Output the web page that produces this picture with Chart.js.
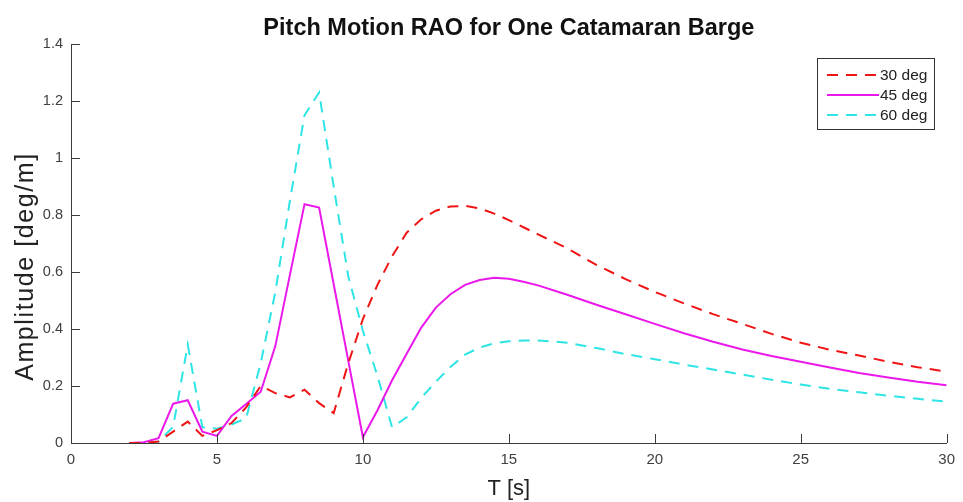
<!DOCTYPE html>
<html>
<head>
<meta charset="utf-8">
<script src="https://cdn.jsdelivr.net/npm/chart.js@4.4.1/dist/chart.umd.min.js"></script>
<style>
  html, body { margin: 0; padding: 0; background: #fff; }
  #wrap { width: 963px; height: 502px; }
</style>
</head>
<body>
<div id="wrap"><canvas id="grafico" width="963" height="502"></canvas></div>
<script>
// periodo de ola T [s]
const periods = [2, 2.5, 3, 3.5, 4, 4.5, 5, 5.5, 6, 6.5, 7, 7.5, 8, 8.5, 9, 9.5, 10,
  10.5, 11, 11.5, 12, 12.5, 13, 13.5, 14, 14.5, 15, 15.5, 16,
  17, 18, 19, 20, 21, 22, 23, 24, 25, 26, 27, 28, 29, 30];

const deg30 = [0, 0, 0.005, 0.04, 0.075, 0.025, 0.045, 0.07, 0.125, 0.2, 0.175, 0.16, 0.187, 0.14, 0.105, 0.28, 0.435,
  0.555, 0.655, 0.738, 0.785, 0.815, 0.83, 0.832, 0.823, 0.805, 0.782, 0.757, 0.732,
  0.683, 0.625, 0.575, 0.53, 0.49, 0.452, 0.418, 0.383, 0.352, 0.327, 0.307, 0.285, 0.266, 0.25];

const deg45 = [0, 0.003, 0.017, 0.138, 0.15, 0.04, 0.025, 0.095, 0.137, 0.18, 0.34, 0.59, 0.838, 0.826, 0.557, 0.288, 0.02,
  0.115, 0.22, 0.313, 0.405, 0.475, 0.522, 0.555, 0.572, 0.58, 0.576, 0.566, 0.553,
  0.52, 0.485, 0.452, 0.418, 0.385, 0.355, 0.328, 0.305, 0.285, 0.265, 0.246, 0.23, 0.215, 0.203];

const deg60 = [0, 0, 0.005, 0.057, 0.345, 0.055, 0.05, 0.065, 0.087, 0.28, 0.53, 0.85, 1.15, 1.23, 0.9, 0.585, 0.394,
  0.235, 0.055, 0.09, 0.158, 0.215, 0.267, 0.31, 0.335, 0.35, 0.357, 0.36, 0.36,
  0.352, 0.333, 0.312, 0.294, 0.275, 0.258, 0.24, 0.222, 0.205, 0.19, 0.178, 0.166, 0.155, 0.145];

const seriesLabels = ['30 deg', '45 deg', '60 deg'];
const xTicks = [0, 5, 10, 15, 20, 25, 30];
const yTicks = [0, 0.2, 0.4, 0.6, 0.8, 1, 1.2, 1.4];

const FONT = "'Liberation Sans', Arial, Helvetica, sans-serif";
const AXIS_COLOR = '#3c3c3c';
const TEXT_COLOR = '#404040';

const toPoints = vals => periods.map((t, i) => ({ x: t, y: vals[i] }));

// centra el título sobre el área de trazado (como MATLAB)
const centerTitle = {
  id: 'centerTitle',
  afterLayout(chart) {
    const tb = chart.titleBlock;
    if (tb) {
      tb.left = chart.chartArea.left;
      tb.right = chart.chartArea.right;
      tb.width = tb.right - tb.left;
    }
  }
};

// marcas de eje hacia adentro + título del eje Y
const insideTicks = {
  id: 'insideTicks',
  afterDraw(chart) {
    const { ctx, chartArea, scales } = chart;
    ctx.save();
    ctx.strokeStyle = AXIS_COLOR;
    ctx.lineWidth = 1;
    ctx.beginPath();
    xTicks.forEach(v => {
      const px = Math.round(scales.x.getPixelForValue(v)) + 0.5;
      ctx.moveTo(px, chartArea.bottom);
      ctx.lineTo(px, chartArea.bottom - 9);
    });
    yTicks.forEach(v => {
      const py = Math.round(scales.y.getPixelForValue(v)) + 0.5;
      ctx.moveTo(chartArea.left, py);
      ctx.lineTo(chartArea.left + 9, py);
    });
    ctx.stroke();

    // etiqueta vertical
    const cy = (chartArea.top + chartArea.bottom) / 2 + 23;
    ctx.translate(33, cy);
    ctx.rotate(-Math.PI / 2);
    ctx.font = '25px ' + FONT;
    if ('letterSpacing' in ctx) ctx.letterSpacing = '1.6px';
    ctx.fillStyle = '#222';
    ctx.textAlign = 'center';
    ctx.textBaseline = 'alphabetic';
    ctx.fillText('Amplitude [deg/m]', 0, 0);
    ctx.restore();
  }
};

// leyenda dentro del área del gráfico (arriba a la derecha)
const boxLegend = {
  id: 'boxLegend',
  afterDraw(chart) {
    const { ctx } = chart;
    const x0 = 817.5, y0 = 58.5, w = 117, h = 71;
    ctx.save();
    ctx.fillStyle = '#fff';
    ctx.fillRect(x0, y0, w, h);
    ctx.strokeStyle = '#333';
    ctx.lineWidth = 1;
    ctx.strokeRect(x0, y0, w, h);
    ctx.font = '15.5px ' + FONT;
    ctx.textBaseline = 'middle';
    ctx.textAlign = 'left';
    chart.data.datasets.forEach((ds, i) => {
      const y = 75 + i * 20;
      ctx.beginPath();
      ctx.strokeStyle = ds.borderColor;
      ctx.lineWidth = ds.borderWidth;
      ctx.setLineDash(ds.borderDash || []);
      ctx.moveTo(827, y);
      ctx.lineTo(879, y);
      ctx.stroke();
      ctx.setLineDash([]);
      ctx.fillStyle = '#222';
      ctx.fillText(ds.label, 880, y + 1);
    });
    ctx.restore();
  }
};

const config = {
  type: 'line',
  data: {
    datasets: [
      {
        label: seriesLabels[0],
        data: toPoints(deg30),
        borderColor: '#f01414',
        borderWidth: 2,
        borderDash: [11, 8],
        pointRadius: 0,
        tension: 0
      },
      {
        label: seriesLabels[1],
        data: toPoints(deg45),
        borderColor: '#ea18ea',
        borderWidth: 2,
        pointRadius: 0,
        tension: 0
      },
      {
        label: seriesLabels[2],
        data: toPoints(deg60),
        borderColor: '#2ee4e4',
        borderWidth: 2,
        borderDash: [11, 8],
        pointRadius: 0,
        tension: 0
      }
    ]
  },
  options: {
    responsive: false,
    animation: false,
    layout: { padding: { left: 0, right: 13, top: 0, bottom: 0 } },
    plugins: {
      legend: { display: false },
      tooltip: { enabled: false },
      title: {
        display: true,
        text: 'Pitch Motion RAO for One Catamaran Barge',
        color: '#111',
        font: { family: FONT, size: 23.5, weight: 'bold' },
        padding: { top: 14, bottom: 1.8 }
      }
    },
    scales: {
      x: {
        type: 'linear',
        min: 0,
        max: 30,
        afterBuildTicks: s => { s.ticks = xTicks.map(v => ({ value: v })); },
        afterFit: s => { s.height = 59; },
        grid: { display: false, drawTicks: false },
        border: { display: true, color: AXIS_COLOR, width: 1 },
        ticks: {
          color: TEXT_COLOR,
          padding: 8,
          maxRotation: 0,
          font: { family: FONT, size: 15 },
          callback: v => String(v)
        },
        title: {
          display: true,
          text: 'T [s]',
          color: '#222',
          font: { family: FONT, size: 22 },
          padding: { top: 6, bottom: 0 }
        }
      },
      y: {
        type: 'linear',
        min: 0,
        max: 1.4,
        afterBuildTicks: s => { s.ticks = yTicks.map(v => ({ value: v })); },
        afterFit: s => { s.width = 71; },
        grid: { display: false, drawTicks: false },
        border: { display: true, color: AXIS_COLOR, width: 1 },
        ticks: {
          color: TEXT_COLOR,
          padding: 8,
          font: { family: FONT, size: 14.5 },
          callback: v => String(Math.round(v * 10) / 10)
        },
        title: { display: false }
      }
    }
  },
  plugins: [centerTitle, insideTicks, boxLegend]
};

new Chart(document.getElementById('grafico'), config);
</script>
</body>
</html>
